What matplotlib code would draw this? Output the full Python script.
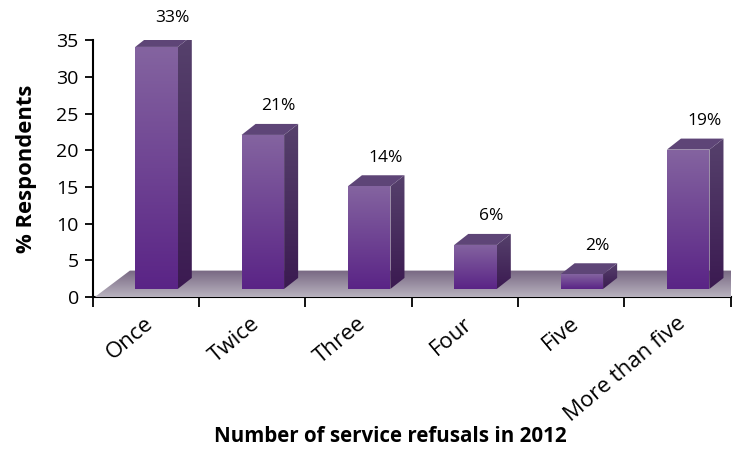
import numpy as np
import matplotlib.pyplot as plt
from matplotlib.patches import Polygon
from matplotlib.colors import LinearSegmentedColormap
from matplotlib.transforms import blended_transform_factory, ScaledTranslation

categories = ['Once', 'Twice', 'Three', 'Four', 'Five', 'More than five']
values = [33, 21, 14, 6, 2, 19]
value_labels = ['33%', '21%', '14%', '6%', '2%', '19%']
yticks = [0, 5, 10, 15, 20, 25, 30, 35]

plt.rcParams['font.family'] = ['Open Sans', 'DejaVu Sans']

fig = plt.figure(figsize=(7.53, 4.5), dpi=100)
ax = fig.add_axes([0.1231, 0.34, 0.8473, 0.5704])

# pseudo-3D geometry in data units
floor_dx, floor_dy = 0.33, 3.6
bar_dx, bar_dy = 0.132, 1.5
base = 1.1
bar_left, bar_w = 0.4, 0.4


def gradient_poly(verts, c_top, c_bottom, z):
    poly = Polygon(verts, closed=True, facecolor='none', edgecolor='none',
                   zorder=z, clip_on=False)
    ax.add_patch(poly)
    xs = [v[0] for v in verts]
    ys = [v[1] for v in verts]
    cmap = LinearSegmentedColormap.from_list('g', [c_bottom, c_top])
    grad = np.linspace(0, 1, 256).reshape(-1, 1)
    im = ax.imshow(grad, cmap=cmap, origin='lower', aspect='auto',
                   extent=[min(xs), max(xs), min(ys), max(ys)],
                   interpolation='bilinear', zorder=z)
    im.set_clip_path(poly)


# floor
n = len(categories)
gradient_poly([(0.02, 0), (n, 0), (n + floor_dx, floor_dy), (0.02 + floor_dx, floor_dy)],
              '#776782', '#b9b3bf', 1)

for i, v in enumerate(values):
    L = i + bar_left
    R = L + bar_w
    B = base
    T = base + v
    # side face
    gradient_poly([(R, B), (R + bar_dx, B + bar_dy), (R + bar_dx, T + bar_dy), (R, T)],
                  '#56416c', '#3b1a51', 2)
    # top face
    ax.add_patch(Polygon([(L, T), (L + bar_dx, T + bar_dy), (R + bar_dx, T + bar_dy), (R, T)],
                         closed=True, facecolor='#5e4577', edgecolor='none', zorder=3))
    # front face
    gradient_poly([(L, B), (R, B), (R, T), (L, T)], '#8464a0', '#5a2486', 4)
    ax.text(L + bar_w / 2 + 0.15, T + bar_dy + 2.4, value_labels[i],
            ha='center', va='center', fontsize=12.5)

ax.set_xlim(0, n)
ax.set_ylim(0, 35)

for s in ['top', 'right']:
    ax.spines[s].set_visible(False)
for s in ['left', 'bottom']:
    ax.spines[s].set_linewidth(1.5)
    ax.spines[s].set_zorder(0.5)

ax.set_yticks(yticks)
ax.tick_params(axis='y', labelsize=14, length=6, width=1.3, pad=4)
ax.set_xticks(range(n + 1))
ax.set_xticklabels([])
ax.tick_params(axis='x', length=7, width=1.3)

# rotated category labels
trans = blended_transform_factory(ax.transData, ax.transAxes)
for i, c in enumerate(categories):
    t = trans + ScaledTranslation(5 / 100, -24 / 100, fig.dpi_scale_trans)
    ax.text(i + 0.5, 0, c, transform=t, rotation=40, rotation_mode='anchor',
            ha='right', va='center', fontsize=16)

ax.set_ylabel('% Respondents', fontsize=15.8, fontweight='bold', labelpad=14)
fig.text(0.518, 0.029, 'Number of service refusals in 2012', ha='center', va='center',
         fontsize=14.8, fontweight='bold')

fig.savefig('out.png', dpi=100)
